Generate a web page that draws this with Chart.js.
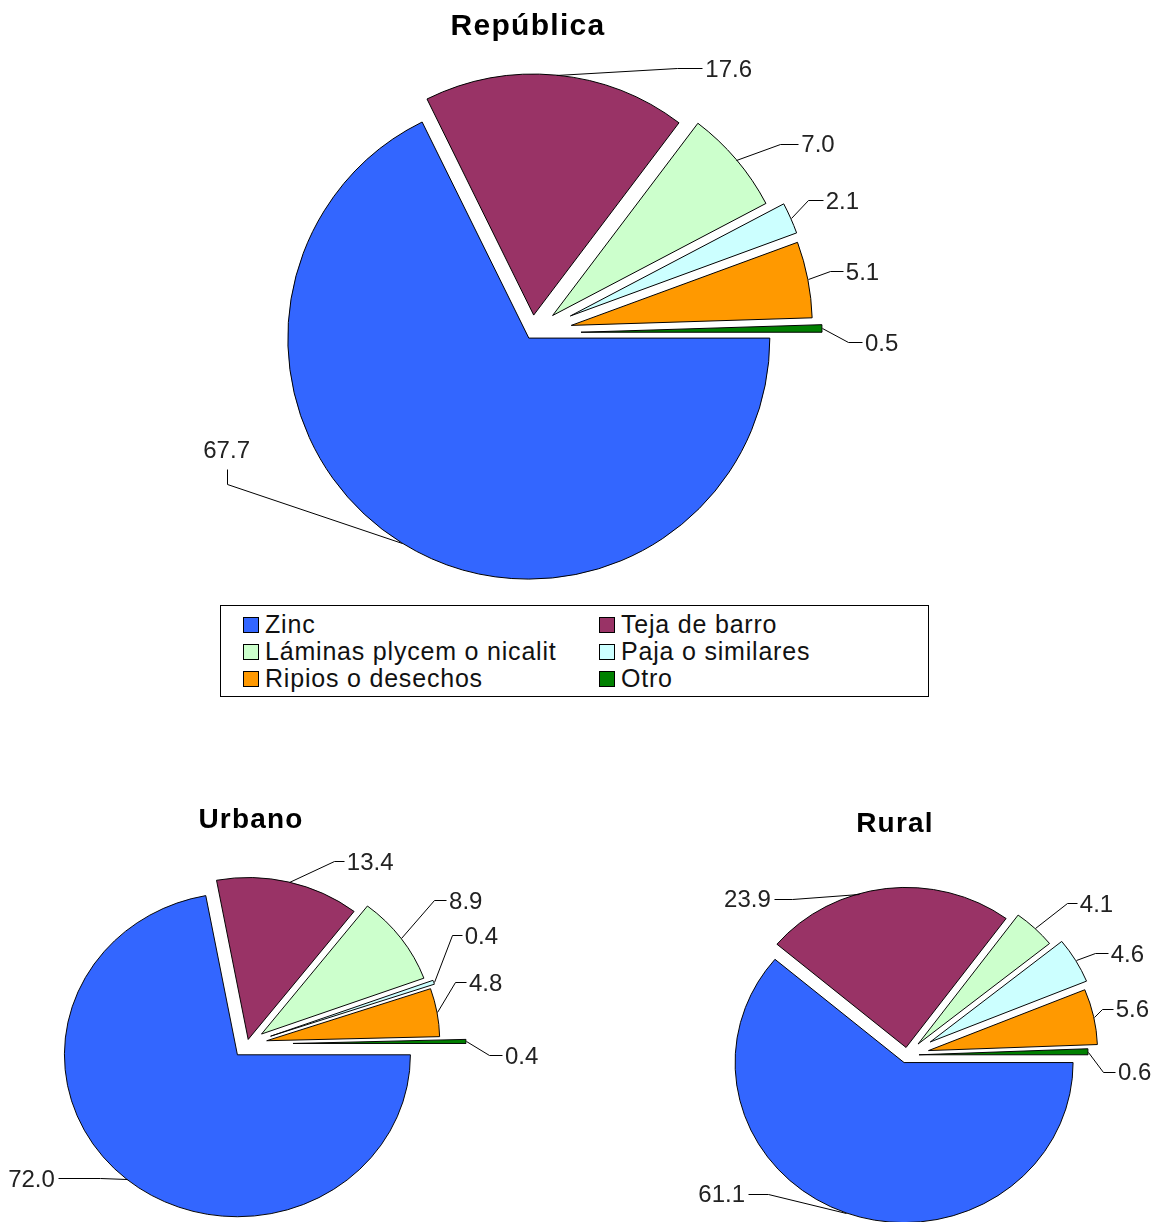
<!DOCTYPE html>
<html>
<head>
<meta charset="utf-8">
<script src="https://cdn.jsdelivr.net/npm/chart.js@4.4.1/dist/chart.umd.min.js"></script>
<style>
  html, body { margin: 0; padding: 0; background: #fff; }
  body { position: relative; width: 1162px; height: 1222px; overflow: hidden; font-family: 'Liberation Sans', Arial, sans-serif; }
  canvas { position: absolute; }
  .title { position: absolute; width: 300px; text-align: center; font-weight: bold; color: #000; line-height: 34px; height: 34px; }
  #legend { position: absolute; left: 220px; top: 605px; width: 709px; height: 92px; box-sizing: border-box;
            border: 1px solid #000; background: #fff; z-index: 2; padding: 5px 0 0 22px;
            display: grid; grid-template-columns: 356px 1fr; grid-auto-rows: 27px; }
  #legend .item { display: flex; align-items: center; font-size: 25px; letter-spacing: 0.8px; color: #111; white-space: nowrap; }
  #legend .sw { width: 14px; height: 14px; border: 1px solid #000; margin-right: 6px; flex: none; }
</style>
</head>
<body>
<div id="legend"></div>

<script>
// Data
const categories = ['Zinc', 'Teja de barro', 'Láminas plycem o nicalit', 'Paja o similares', 'Ripios o desechos', 'Otro'];
const republicaValues = [67.7, 17.6, 7.0, 2.1, 5.1, 0.5];
const urbanoValues = [72.0, 13.4, 8.9, 0.4, 4.8, 0.4];
const ruralValues = [61.1, 23.9, 4.1, 4.6, 5.6, 0.6];
const chartTitles = ['República', 'Urbano', 'Rural'];

const colors = ['#3366FF', '#993366', '#CCFFCC', '#CCFFFF', '#FF9900', '#008000'];

// Layout of each pie: centre, radius, vertical squash, exploded distance per slice,
// and leader lines (elbow offset from the slice edge, then the short tail to the text)
const layouts = [
    {
        values: republicaValues, title: { x: 528, y: 25, size: 30, ls: 1.3 },
        cx: 532, cy: 333, w: 840, h: 620, r: 241, squash: 1,
        explode: [6, 18, 27, 42, 40, 49],
        leaders: [
            { e: [-175, -59], t: [0, -15] },
            { e: [121, -7], t: [25, 0] },
            { e: [44, -16], t: [18, 0] },
            { e: [17, -18], t: [15, 0] },
            { e: [22, -8], t: [13, 0] },
            { e: [26, 14], t: [14, 0] },
        ]
    },
    {
        values: urbanoValues, title: { x: 251, y: 819, size: 28, ls: 1.2 },
        cx: 247, cy: 1044, w: 700, h: 480, r: 173, squash: 0.936,
        explode: [15, 5, 18, 25, 20, 46],
        leaders: [
            { e: [-27, -1], t: [-42, 0] },
            { e: [45, -21], t: [10, 0] },
            { e: [33, -38], t: [12, 0] },
            { e: [18, -47], t: [10, 0] },
            { e: [18, -30], t: [11, 0] },
            { e: [23, 14], t: [13, 0] },
        ]
    },
    {
        values: ruralValues, title: { x: 895, y: 823, size: 28, ls: 1.2 },
        cx: 907, cy: 1055, w: 640, h: 480, r: 169, squash: 0.947,
        explode: [8.5, 8, 16, 27, 22, 12],
        leaders: [
            { at: 0.5, e: [-78, -19], t: [-20, 0] },
            { at: 0.39, e: [-67, 5], t: [-18, 0] },
            { at: 0.5, e: [32, -25], t: [10, 0] },
            { at: 0.5, e: [19, -7], t: [13, 0] },
            { at: 0.5, e: [8, -8], t: [11, 0] },
            { at: 0.5, e: [15, 20], t: [12, 0] },
        ]
    }
];

// Draw arcs pulled out from the centre, squashed slightly like the original
function explodePlugin(cfg) {
    return {
        id: 'explode',
        beforeDatasetDraw(chart, args) {
            const ctx = chart.ctx;
            const arcs = args.meta.data;
            const { x, y } = arcs[0];
            ctx.save();
            ctx.translate(x, y);
            ctx.scale(1, cfg.squash);
            ctx.translate(-x, -y);
            arcs.forEach((arc, i) => {
                const mid = (arc.startAngle + arc.endAngle) / 2;
                const d = cfg.explode[i] || 0;
                ctx.save();
                ctx.translate(Math.cos(mid) * d, Math.sin(mid) * d);
                arc.draw(ctx);
                ctx.restore();
            });
            ctx.restore();
            return false;
        }
    };
}

// Value labels with leader lines
function leaderPlugin(cfg) {
    return {
        id: 'leaders',
        afterDatasetsDraw(chart) {
            const ctx = chart.ctx;
            const values = chart.data.datasets[0].data;
            const arcs = chart.getDatasetMeta(0).data;
            ctx.save();
            ctx.strokeStyle = '#000';
            ctx.lineWidth = 1;
            ctx.fillStyle = '#222';
            ctx.font = '24px "Liberation Sans", Arial, sans-serif';
            arcs.forEach((arc, i) => {
                const l = cfg.leaders[i];
                const at = l.at === undefined ? 0.5 : l.at;
                const mid = (arc.startAngle + arc.endAngle) / 2;
                const ang = arc.startAngle + (arc.endAngle - arc.startAngle) * at;
                const d = cfg.explode[i] || 0;
                const ax = arc.x + Math.cos(mid) * d + Math.cos(ang) * arc.outerRadius;
                const ay = arc.y + (Math.sin(mid) * d + Math.sin(ang) * arc.outerRadius) * cfg.squash;
                const ex = ax + l.e[0], ey = ay + l.e[1];
                const tx = ex + l.t[0], ty = ey + l.t[1];
                ctx.beginPath();
                ctx.moveTo(Math.round(ax) + 0.5, Math.round(ay) + 0.5);
                ctx.lineTo(Math.round(ex) + 0.5, Math.round(ey) + 0.5);
                ctx.lineTo(Math.round(tx) + 0.5, Math.round(ty) + 0.5);
                ctx.stroke();

                const text = values[i].toFixed(1);
                ctx.textBaseline = 'alphabetic';
                if (l.t[0] > 0) {
                    ctx.textAlign = 'left';
                    ctx.fillText(text, tx + 3, ty + 8.5);
                } else if (l.t[0] < 0) {
                    ctx.textAlign = 'right';
                    ctx.fillText(text, tx - 3, ty + 8.5);
                } else {
                    ctx.textAlign = 'center';
                    ctx.fillText(text, tx, ty - 11);
                }
            });
            ctx.restore();
        }
    };
}

function makePie(cfg, idx) {
    const canvas = document.createElement('canvas');
    canvas.width = cfg.w;
    canvas.height = cfg.h;
    canvas.style.left = (cfg.cx - cfg.w / 2) + 'px';
    canvas.style.top = (cfg.cy - cfg.h / 2) + 'px';
    document.body.appendChild(canvas);

    const t = document.createElement('div');
    t.className = 'title';
    t.textContent = chartTitles[idx];
    t.style.left = (cfg.title.x - 150) + 'px';
    t.style.top = (cfg.title.y - 17) + 'px';
    t.style.fontSize = cfg.title.size + 'px';
    t.style.letterSpacing = cfg.title.ls + 'px';
    document.body.appendChild(t);

    new Chart(canvas, {
        type: 'pie',
        data: {
            labels: categories,
            datasets: [{
                data: cfg.values,
                backgroundColor: colors,
                borderColor: '#000',
                borderWidth: 1,
                hoverOffset: 0
            }]
        },
        options: {
            responsive: false,
            animation: false,
            events: [],
            radius: cfg.r,
            rotation: 90,
            layout: { padding: 0 },
            plugins: {
                legend: { display: false },
                tooltip: { enabled: false },
                title: { display: false }
            }
        },
        plugins: [explodePlugin(cfg), leaderPlugin(cfg)]
    });
}

layouts.forEach(makePie);

// Legend box
const legend = document.getElementById('legend');
categories.forEach((name, i) => {
    const item = document.createElement('div');
    item.className = 'item';
    const sw = document.createElement('span');
    sw.className = 'sw';
    sw.style.background = colors[i];
    item.appendChild(sw);
    item.appendChild(document.createTextNode(name));
    legend.appendChild(item);
});
</script>
</body>
</html>
